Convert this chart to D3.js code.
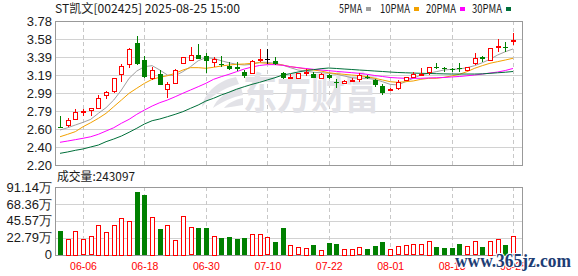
<!DOCTYPE html>
<html>
<head>
<meta charset="utf-8">
<script src="https://cdn.jsdelivr.net/npm/d3@7"></script>
<style>
body { margin: 0; background: #fff; }
svg { display: block; font-family: "Liberation Sans", Arial, sans-serif; }
</style>
</head>
<body>
<div id="kline"></div>
<script>
var dates = ["06-03","06-04","06-05","06-06","06-09","06-10","06-11","06-12","06-13","06-16",
    "06-17","06-18","06-19","06-20","06-23","06-24","06-25","06-26","06-27","06-30",
    "07-01","07-02","07-03","07-04","07-07","07-08","07-09","07-10","07-11","07-14",
    "07-15","07-16","07-17","07-18","07-21","07-22","07-23","07-24","07-25","07-28",
    "07-29","07-30","07-31","08-01","08-04","08-05","08-06","08-07","08-08","08-11",
    "08-12","08-13","08-14","08-15","08-18","08-19","08-20","08-21","08-22","08-25"];

var open  = [2.62,2.64,2.70,2.78,2.80,2.83,2.97,3.01,3.20,3.30, 3.54,3.35,3.15,3.20,3.03,3.10,3.32,3.36,3.41,3.40,
             3.33,3.31,3.29,3.27,3.22,3.21,3.35,3.36,3.34,3.21, 3.16,3.16,3.21,3.20,3.16,3.19,3.11,3.10,3.12,3.15,
             3.17,3.13,3.07,3.02,3.04,3.14,3.17,3.19,3.21,3.28, 3.26,3.25,3.26,3.24,3.31,3.38,3.35,3.50,3.50,3.56];
var high  = [2.74,2.72,2.81,2.81,2.83,2.97,3.01,3.16,3.31,3.48, 3.62,3.40,3.27,3.24,3.11,3.25,3.39,3.49,3.53,3.43,
             3.39,3.40,3.33,3.33,3.24,3.35,3.47,3.47,3.38,3.22, 3.20,3.21,3.25,3.22,3.21,3.20,3.14,3.13,3.15,3.21,
             3.19,3.14,3.09,3.05,3.13,3.17,3.22,3.26,3.27,3.32, 3.27,3.26,3.32,3.28,3.43,3.40,3.48,3.58,3.55,3.65];
var low   = [2.61,2.62,2.69,2.74,2.74,2.82,2.92,2.99,3.11,3.26, 3.30,3.15,3.13,3.08,2.93,3.09,3.32,3.36,3.36,3.21,
             3.27,3.27,3.24,3.23,3.15,3.20,3.33,3.31,3.30,3.14, 3.14,3.16,3.18,3.15,3.16,3.14,3.05,3.10,3.11,3.11,
             3.14,3.06,2.97,3.01,3.02,3.13,3.17,3.19,3.19,3.25, 3.22,3.22,3.22,3.23,3.30,3.33,3.34,3.44,3.44,3.52];
var close = [2.61,2.69,2.78,2.79,2.82,2.94,3.00,3.15,3.29,3.47, 3.31,3.16,3.24,3.08,3.09,3.24,3.39,3.41,3.37,3.34,
             3.36,3.30,3.26,3.25,3.18,3.34,3.36,3.36,3.31,3.15, 3.17,3.21,3.22,3.16,3.20,3.16,3.10,3.12,3.13,3.19,
             3.16,3.07,2.99,3.03,3.11,3.17,3.20,3.20,3.27,3.27, 3.25,3.24,3.25,3.27,3.37,3.36,3.48,3.51,3.49,3.57];

// volume in 万
var volume = [32.6,21.3,32.2,20.4,24.5,40.4,30.8,40.4,49.9,45.8, 85.7,81.6,51.3,35.4,40.4,20.0,52.6,36.7,36.7,36.7,
              25.4,23.1,24.5,21.8,23.1,28.1,28.1,23.1,17.7,36.7, 13.2,10.0,9.1,13.6,6.4,16.3,15.0,7.7,7.7,10.0,
              8.2,12.2,17.7,7.7,10.9,12.2,14.0,13.6,18.6,10.9, 9.5,9.5,15.4,10.9,18.1,10.9,18.6,21.3,14.5,24.3097];

var ma5  = [2.584,2.609,2.639,2.668,2.701,2.767,2.829,2.913,3.023,3.151, 3.231,3.279,3.290,3.242,3.187,3.180,3.224,3.279,3.344,3.377,
            3.371,3.344,3.322,3.305,3.297,3.305,3.327,3.327,3.316,3.297, 3.268,3.242,3.231,3.217,3.213,3.206,3.195,3.177,3.158,3.151,
            3.151,3.140,3.114,3.085,3.078,3.114,3.151,3.187,3.206,3.224, 3.242,3.250,3.253,3.268,3.290,3.322,3.360,3.407,3.443,3.473];
var ma10 = [2.510,2.537,2.566,2.620,2.664,2.712,2.767,2.840,2.913,2.987, 3.042,3.096,3.140,3.162,3.180,3.206,3.242,3.268,3.268,3.261,
            3.272,3.286,3.297,3.305,3.308,3.316,3.322,3.316,3.305,3.297, 3.279,3.268,3.253,3.242,3.231,3.213,3.202,3.195,3.187,3.180,
            3.169,3.151,3.133,3.114,3.107,3.114,3.122,3.140,3.151,3.151, 3.162,3.177,3.195,3.224,3.261,3.290,3.316,3.334,3.352,3.371];
var ma20 = [2.449,2.463,2.478,2.493,2.510,2.537,2.573,2.609,2.658,2.701, 2.756,2.803,2.847,2.884,2.913,2.949,2.987,3.023,3.059,3.096,
            3.140,3.169,3.195,3.224,3.253,3.275,3.292,3.301,3.301,3.294, 3.279,3.268,3.259,3.250,3.242,3.235,3.227,3.220,3.213,3.206,
            3.195,3.182,3.171,3.160,3.155,3.151,3.151,3.151,3.155,3.157, 3.160,3.166,3.171,3.179,3.187,3.198,3.209,3.220,3.237,3.259];
var ma30 = [2.328,2.343,2.361,2.376,2.398,2.419,2.456,2.485,2.518,2.559, 2.603,2.650,2.686,2.705,2.730,2.756,2.785,2.822,2.858,2.902,
            2.932,2.968,2.998,3.031,3.059,3.085,3.107,3.133,3.158,3.187, 3.202,3.220,3.235,3.246,3.257,3.264,3.259,3.253,3.248,3.242,
            3.237,3.231,3.226,3.220,3.215,3.212,3.209,3.206,3.204,3.202, 3.200,3.198,3.198,3.198,3.198,3.200,3.206,3.212,3.218,3.226];

var priceTicks = [2.20, 2.3975, 2.595, 2.7925, 2.99, 3.1875, 3.385, 3.5825, 3.78];
var priceTickLabels = ["2.20","2.40","2.60","2.79","2.99","3.19","3.39","3.58","3.78"];
var volTicks = [0, 22.785, 45.57, 68.355, 91.14];
var volTickLabels = ["0","22.79万","45.57万","68.36万","91.14万"];
var dateTicks = ["06-06","06-18","06-30","07-10","07-22","08-01","08-13","08-25"];

var maNames = ["5PMA","10PMA","20PMA","30PMA"];
var maColors = ["#a0a0a0","#f2a100","#ff00ff","#006f3a"];
var UP = "#ff0000", DOWN = "#008000";

var width = 578, height = 276;
var left = 55, right = 522;
var mainTop = 21, mainBottom = 165;
var volTop = 187, volBottom = 254.5;

var svg = d3.select("#kline").append("svg")
    .attr("width", width)
    .attr("height", height);

var x = d3.scaleLinear().domain([0, dates.length - 1]).range([60, 513]);
var y = d3.scaleLinear().domain([2.20, 3.78]).range([mainBottom, mainTop]);
var yv = d3.scaleLinear().domain([0, 91.14]).range([volBottom, volTop]);

function px(i) { return Math.round(x(i)); }

// horizontal grid + labels
function yAxis(scale, ticks, labels, top, bottom) {
    var g = svg.append("g")
        .attr("transform", "translate(" + left + ",0)")
        .call(d3.axisLeft(scale)
            .tickValues(ticks)
            .tickSize(-(right - left))
            .tickPadding(3)
            .tickFormat(function (d, i) { return labels[i]; }));
    g.select(".domain").remove();
    g.selectAll(".tick line").attr("stroke", "#d2d2d2").attr("shape-rendering", "crispEdges");
    g.selectAll(".tick text").attr("fill", "#1a1a1a").style("font-size", "13px");
    // vertical dashed lines on the date ticks
    svg.append("g").selectAll("line")
        .data(dateTicks).enter()
        .append("line")
        .attr("x1", function (d) { return px(dates.indexOf(d)) + 0.5; })
        .attr("x2", function (d) { return px(dates.indexOf(d)) + 0.5; })
        .attr("y1", top)
        .attr("y2", bottom)
        .attr("stroke", "#c8c8c8")
        .attr("stroke-dasharray", "4,3");
    svg.append("rect")
        .attr("x", left + 0.5).attr("y", Math.round(top) + 0.5)
        .attr("width", right - left).attr("height", Math.round(bottom - top))
        .attr("fill", "none").attr("stroke", "#999")
        .attr("shape-rendering", "crispEdges");
}
yAxis(y, priceTicks, priceTickLabels, mainTop, mainBottom);
yAxis(yv, volTicks, volTickLabels, volTop, volBottom);

// watermark
var wm = svg.append("g").attr("fill", "#e2e2e7");
wm.append("path").attr("d", "M236,77 C220,80 204,92 202,107 C211,96 223,88 239,84 Z");
wm.append("path").attr("d", "M241,87 C228,90 216,99 213,108 C222,102 232,97 243,95 Z");
wm.append("path").attr("d", "M243,98 C234,100 227,104 224,108 C231,107 237,106 243,105 Z");
wm.append("text")
    .attr("x", 243).attr("y", 109)
    .attr("textLength", 136).attr("lengthAdjust", "spacingAndGlyphs")
    .style("font-family", "'Noto Sans CJK SC'")
    .style("font-weight", "700")
    .style("font-size", "43px")
    .text("东方财富");

// moving averages
var line = d3.line()
    .x(function (d, i) { return x(i); })
    .y(function (d) { return y(d); });
[ma5, ma10, ma20, ma30].forEach(function (s, k) {
    svg.append("path")
        .datum(s)
        .attr("d", line)
        .attr("fill", "none")
        .attr("stroke", maColors[k])
        .attr("stroke-width", 1);
});

function colorOf(i) {
    if (close[i] > open[i]) return UP;
    if (close[i] < open[i]) return DOWN;
    return "#000";
}

// candles
var candles = svg.append("g").attr("shape-rendering", "crispEdges");
candles.selectAll("line")
    .data(dates).enter()
    .append("line")
    .attr("x1", function (d, i) { return px(i) + 0.5; })
    .attr("x2", function (d, i) { return px(i) + 0.5; })
    .attr("y1", function (d, i) { return y(high[i]); })
    .attr("y2", function (d, i) { return y(low[i]); })
    .attr("stroke", function (d, i) { return colorOf(i); });

candles.selectAll("rect")
    .data(dates).enter()
    .append("rect")
    .attr("x", function (d, i) { return close[i] > open[i] ? px(i) - 1.5 : px(i) - 2; })
    .attr("y", function (d, i) {
        var t = y(Math.max(open[i], close[i]));
        return close[i] > open[i] ? Math.round(t) + 0.5 : Math.round(t);
    })
    .attr("width", function (d, i) { return close[i] > open[i] ? 4 : 5; })
    .attr("height", function (d, i) {
        return Math.max(1, Math.round(Math.abs(y(open[i]) - y(close[i]))));
    })
    .attr("fill", function (d, i) { return close[i] > open[i] ? "#fff" : colorOf(i); })
    .attr("stroke", function (d, i) { return close[i] > open[i] ? UP : "none"; });

// volume bars
svg.append("g").attr("shape-rendering", "crispEdges")
    .selectAll("rect")
    .data(volume).enter()
    .append("rect")
    .attr("x", function (d, i) { return close[i] >= open[i] ? px(i) - 1.5 : px(i) - 2; })
    .attr("y", function (d) { return Math.round(yv(d)) + 0.5; })
    .attr("width", function (d, i) { return close[i] >= open[i] ? 4 : 5; })
    .attr("height", function (d) { return Math.round(volBottom - yv(d)); })
    .attr("fill", function (d, i) { return close[i] >= open[i] ? "#fff" : DOWN; })
    .attr("stroke", function (d, i) { return close[i] >= open[i] ? UP : "none"; });

// date labels
svg.append("g").selectAll("text")
    .data(dateTicks).enter()
    .append("text")
    .attr("x", function (d) { return x(dates.indexOf(d)) + 0.5; })
    .attr("y", 269.5)
    .attr("text-anchor", "middle")
    .attr("fill", UP)
    .style("font-size", "10.5px")
    .text(function (d) { return d; });

// title, legend
svg.append("text")
    .attr("x", 55).attr("y", 13)
    .attr("textLength", 185).attr("lengthAdjust", "spacingAndGlyphs")
    .attr("fill", "#1a1a1a")
    .style("font-family", "'Noto Sans CJK SC'")
    .style("font-size", "12px")
    .text("ST凯文[002425] 2025-08-25 15:00");

var legendX = [339, 380, 426, 472];
var legendW = [23, 30, 30, 30];
maNames.forEach(function (n, k) {
    svg.append("text")
        .attr("x", legendX[k]).attr("y", 13)
        .attr("textLength", legendW[k]).attr("lengthAdjust", "spacingAndGlyphs")
        .attr("fill", "#1a1a1a")
        .style("font-family", "'Noto Sans CJK SC'")
        .style("font-size", "12px")
        .text(n);
    svg.append("rect")
        .attr("x", legendX[k] + legendW[k] + 4).attr("y", 7)
        .attr("width", 5).attr("height", 4)
        .attr("fill", maColors[k]);
});

svg.append("text")
    .attr("x", 57).attr("y", 181)
    .attr("textLength", 78).attr("lengthAdjust", "spacingAndGlyphs")
    .attr("fill", "#1a1a1a")
    .style("font-family", "'Noto Sans CJK SC'")
    .style("font-size", "12px")
    .text("成交量:" + Math.round(volume[volume.length - 1] * 10000));

// site mark
svg.append("text")
    .attr("x", 455).attr("y", 267)
    .attr("textLength", 116).attr("lengthAdjust", "spacingAndGlyphs")
    .attr("fill", "#1d3d75")
    .attr("stroke", "#fff").attr("stroke-width", 2).attr("paint-order", "stroke")
    .style("font-family", "'Liberation Serif', serif")
    .style("font-weight", "700")
    .style("font-size", "18px")
    .text("www.365jz.com");
</script>
</body>
</html>
